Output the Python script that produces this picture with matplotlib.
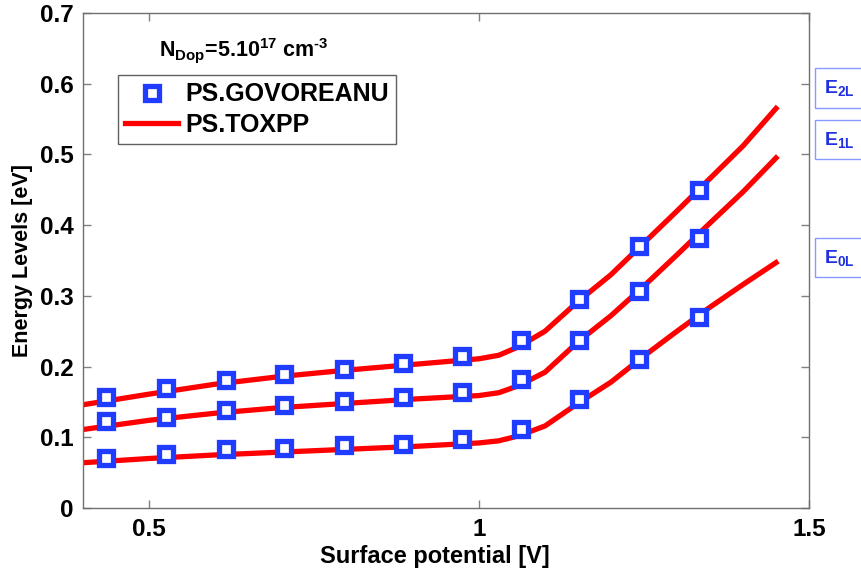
import matplotlib
matplotlib.use("Agg")
import matplotlib.pyplot as plt

plt.rcParams['font.family'] = ['Liberation Sans', 'DejaVu Sans']
plt.rcParams['font.weight'] = 'bold'
plt.rcParams['mathtext.fontset'] = 'custom'
plt.rcParams['mathtext.rm'] = 'Liberation Sans:bold'
plt.rcParams['mathtext.bf'] = 'Liberation Sans:bold'

# simulated (GOVOREANU) points
x_pts = [0.435, 0.526, 0.616, 0.705, 0.795, 0.885, 0.974, 1.063, 1.151, 1.242, 1.333]
e2_pts = [0.157, 0.169, 0.181, 0.189, 0.197, 0.205, 0.215, 0.238, 0.295, 0.370, 0.450]
e1_pts = [0.123, 0.128, 0.138, 0.145, 0.152, 0.157, 0.164, 0.183, 0.238, 0.307, 0.382]
e0_pts = [0.071, 0.077, 0.083, 0.085, 0.089, 0.091, 0.097, 0.111, 0.154, 0.210, 0.270]

# TOXPP curves
x_line = [0.40, 0.50, 0.60, 0.70, 0.80, 0.90, 1.00, 1.03, 1.06, 1.10, 1.15,
          1.20, 1.25, 1.30, 1.35, 1.40, 1.45]
e2_line = [0.146, 0.161, 0.175, 0.186, 0.195, 0.203, 0.211, 0.216, 0.228, 0.250, 0.292,
           0.330, 0.375, 0.420, 0.466, 0.512, 0.565]
e1_line = [0.111, 0.124, 0.134, 0.142, 0.148, 0.154, 0.159, 0.163, 0.173, 0.192, 0.235,
           0.272, 0.314, 0.358, 0.403, 0.447, 0.495]
e0_line = [0.064, 0.070, 0.075, 0.079, 0.083, 0.087, 0.092, 0.095, 0.102, 0.116, 0.148,
           0.178, 0.215, 0.250, 0.284, 0.316, 0.347]

level_names = ['$\\mathregular{E_{2L}}$', '$\\mathregular{E_{1L}}$', '$\\mathregular{E_{0L}}$']
level_y = [0.594, 0.521, 0.354]

red = '#ff0000'
blue = '#1f3cff'

fig = plt.figure(figsize=(8.61, 5.72), dpi=100)
ax = fig.add_axes([0.0964, 0.1119, 0.8432, 0.8654])

first = True
for yl in [e2_line, e1_line, e0_line]:
    ax.plot(x_line, yl, color=red, lw=3.8, label='PS.TOXPP' if first else None, zorder=2)
    first = False
first = True
for yp in [e2_pts, e1_pts, e0_pts]:
    ax.plot(x_pts, yp, ls='none', marker='s', ms=10, mew=3.8, mfc='white', mec=blue,
            label='PS.GOVOREANU' if first else None, zorder=3)
    first = False

ax.set_xlim(0.4, 1.5)
ax.set_ylim(0, 0.7)
ax.set_xticks([0.5, 1, 1.5])
ax.set_xticklabels(['0.5', '1', '1.5'])
ax.set_yticks([0, 0.1, 0.2, 0.3, 0.4, 0.5, 0.6, 0.7])
ax.set_yticklabels(['0', '0.1', '0.2', '0.3', '0.4', '0.5', '0.6', '0.7'])
ax.tick_params(direction='in', length=6, width=1, color='#808080', labelsize=17.5,
               top=True, right=True, pad=7)
for s in ax.spines.values():
    s.set_color('#707070')
    s.set_linewidth(1)

ax.set_xlabel('Surface potential [V]', fontsize=17, fontweight='bold', labelpad=2)
ax.xaxis.set_label_coords(0.485, -0.075)
ax.set_ylabel('Energy Levels [eV]', fontsize=15.5, fontweight='bold', labelpad=5)

handles, labels = ax.get_legend_handles_labels()
order = [labels.index('PS.GOVOREANU'), labels.index('PS.TOXPP')]
leg = ax.legend([handles[i] for i in order], [labels[i] for i in order],
                loc='upper left', bbox_to_anchor=(0.048, 0.875), borderaxespad=0,
                fontsize=18, frameon=True, fancybox=False, edgecolor='#606060',
                framealpha=1, handlelength=2.1, handletextpad=0.3, borderpad=0.3,
                labelspacing=0.25)
leg.get_frame().set_linewidth(1)

ax.text(0.105, 0.925,
        '$\\mathregular{N_{Dop}}$=5.10$^{\\mathregular{17}}$ cm$^{\\mathregular{\\text{-}3}}$',
        transform=ax.transAxes, fontsize=15.5, fontweight='bold', ha='left', va='center')

for name, yv in zip(level_names, level_y):
    ax.text(1.021, yv, name, transform=ax.get_yaxis_transform(), fontsize=14,
            color='#2030e0', ha='left', va='center', clip_on=False,
            bbox=dict(boxstyle='square,pad=0.5', fc='white', ec='#8899ff', lw=1))

fig.savefig('out.png', dpi=100)
